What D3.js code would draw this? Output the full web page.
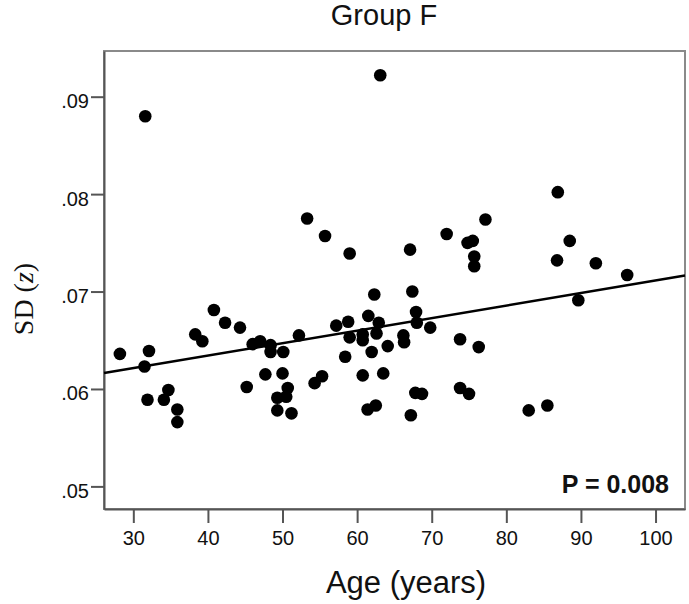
<!DOCTYPE html>
<html>
<head>
<meta charset="utf-8">
<script src="https://cdn.jsdelivr.net/npm/d3@7"></script>
<style>
  html, body { margin: 0; padding: 0; background: #fff; }
  svg { display: block; }
</style>
</head>
<body>
<svg id="chart" width="689" height="604"></svg>
<script>
const ages = [28.2,31.6,32.1,31.5,31.9,34.1,34.7,35.9,35.9,38.3,39.25,40.8,42.3,44.3,45.2,46.0,47.0,48.4,48.4,50.1,
  47.7,50.0,50.7,49.3,50.5,49.3,51.2,52.2,53.3,54.3,55.3,55.7,57.2,58.8,59.0,58.4,59.0,60.75,60.75,61.5,
  62.3,62.9,62.6,61.95,60.75,63.5,61.4,62.5,63.1,64.1,66.2,66.3,67.1,67.4,67.9,68.0,69.8,67.8,68.7,67.2,
  72.0,73.8,73.8,74.8,75.5,75.0,75.7,75.7,76.3,77.2,83.0,85.5,86.9,86.8,88.5,89.65,92.0,96.2];
const sdValues = [.0636,.0880,.0639,.0623,.0589,.0589,.0599,.0579,.0566,.0656,.0649,.0681,.0668,.0663,.0602,.0646,.0649,.0645,.0638,.0638,
  .0615,.0616,.0601,.0591,.0592,.0578,.0575,.0655,.0775,.0606,.0613,.0757,.0665,.0669,.0653,.0633,.0739,.0656,.0650,.0675,
  .0697,.0668,.0657,.0638,.0614,.0616,.0579,.0583,.0922,.0644,.0655,.0648,.0743,.0700,.0679,.0668,.0663,.0596,.0595,.0573,
  .0759,.0651,.0601,.0750,.0752,.0595,.0736,.0726,.0643,.0774,.0578,.0583,.0802,.0732,.0752,.0691,.0729,.0717];
const xTicks = [30,40,50,60,70,80,90,100];
const yTicks = [.05,.06,.07,.08,.09];
const fitLine = [0.05828, 0.0001285]; // intercept, slope
const titleText = "Group F";
const xLabel = "Age (years)";
const pText = "P = 0.008";

const svg = d3.select("#chart");
const m = {left: 104, top: 51, right: 685, bottom: 509};
const x = d3.scaleLinear().domain([26.07, 103.95]).range([m.left, m.right]);
const y = d3.scaleLinear().domain([0.04768, 0.09469]).range([m.bottom, m.top]);

// frame (top/right)
svg.append("rect")
  .attr("x", m.left).attr("y", m.top)
  .attr("width", m.right - m.left).attr("height", m.bottom - m.top)
  .attr("fill", "none").attr("stroke", "#8a8a8a").attr("stroke-width", 2);

// axes
const xAxis = svg.append("g").attr("transform", `translate(0,${m.bottom})`)
  .call(d3.axisBottom(x).tickValues(xTicks).tickSizeInner(14).tickSizeOuter(0).tickPadding(8).tickFormat(d3.format("d")));
const yAxis = svg.append("g").attr("transform", `translate(${m.left},0)`)
  .call(d3.axisLeft(y).tickValues(yTicks).tickSizeInner(13).tickSizeOuter(0).tickPadding(2)
    .tickFormat(d => d3.format(".2f")(d).replace(/^0/, "")));
[xAxis, yAxis].forEach(g => {
  g.select(".domain").attr("stroke", "#555").attr("stroke-width", 2);
  g.selectAll(".tick line").attr("stroke", "#555").attr("stroke-width", 2);
  g.selectAll(".tick text").attr("fill", "#111")
    .style("font-family", "'Liberation Sans', Arial, sans-serif").style("font-size", "20px");
});
yAxis.selectAll(".tick text").attr("dy", "0.55em");

// points
svg.append("g").selectAll("circle")
  .data(ages.map((a, i) => [a, sdValues[i]]))
  .join("circle")
  .attr("cx", d => x(d[0])).attr("cy", d => y(d[1]))
  .attr("r", 6.3).attr("fill", "#000");

// fit line
const xd = x.domain();
svg.append("line")
  .attr("x1", x(xd[0])).attr("y1", y(fitLine[0] + fitLine[1] * xd[0]))
  .attr("x2", x(xd[1])).attr("y2", y(fitLine[0] + fitLine[1] * xd[1]))
  .attr("stroke", "#000").attr("stroke-width", 2.5);

// title
svg.append("text").attr("x", 384).attr("y", 25).attr("text-anchor", "middle")
  .style("font-family", "'Liberation Sans', Arial, sans-serif").style("font-size", "29px")
  .attr("fill", "#111").text(titleText);

// x label
svg.append("text").attr("x", 406).attr("y", 593).attr("text-anchor", "middle")
  .style("font-family", "'Liberation Sans', Arial, sans-serif").style("font-size", "31px")
  .attr("fill", "#111").text(xLabel);

// y label
const yl = svg.append("text")
  .attr("transform", "translate(33,299) rotate(-90)")
  .attr("text-anchor", "middle")
  .style("font-family", "'Liberation Serif', 'Times New Roman', serif").style("font-size", "28px")
  .attr("fill", "#111");
yl.append("tspan").text("SD (");
yl.append("tspan").style("font-style", "italic").text("z");
yl.append("tspan").text(")");

// P value
svg.append("text").attr("x", 669).attr("y", 493).attr("text-anchor", "end")
  .style("font-family", "'Liberation Sans', Arial, sans-serif").style("font-size", "25px")
  .style("font-weight", "bold").attr("fill", "#111").text(pText);
</script>
</body>
</html>
